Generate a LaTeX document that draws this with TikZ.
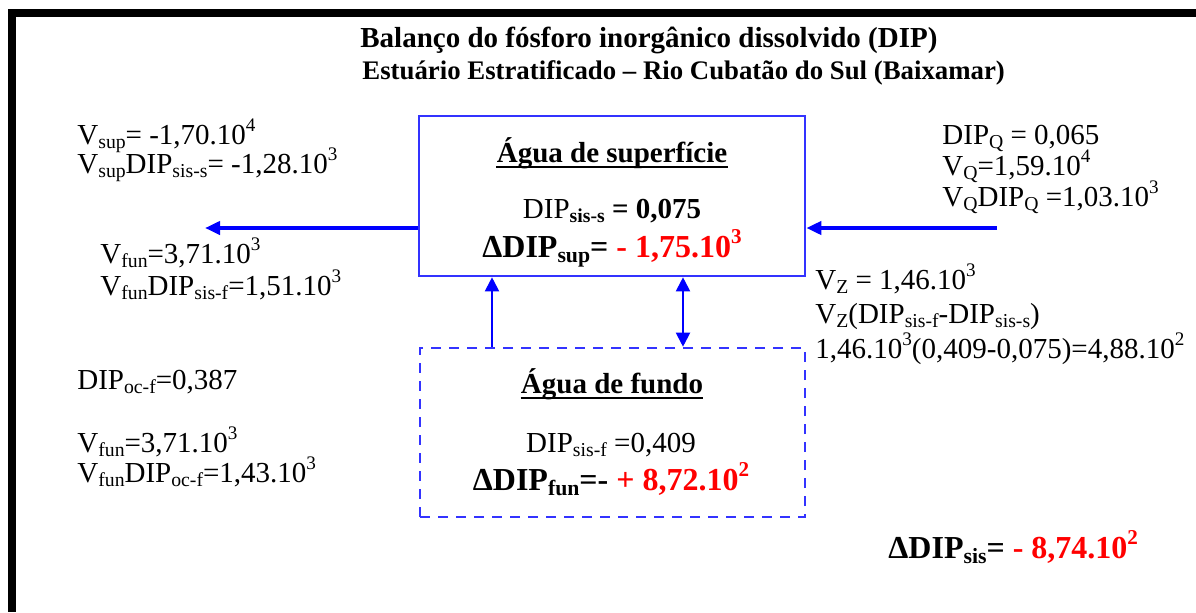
\documentclass[tikz,border=0pt]{standalone}
\usepackage{fontspec}
\setmainfont{Liberation Serif}
\usetikzlibrary{arrows.meta}
\definecolor{boxblue}{RGB}{51,51,255}
\definecolor{arrblue}{RGB}{0,0,255}
\definecolor{valred}{RGB}{255,0,0}
\newcommand{\sbx}[1]{\raisebox{-0.17em}{\scalebox{0.68}{#1}}}
\newcommand{\spx}[1]{\raisebox{0.42em}{\scalebox{0.66}{#1}}}
\tikzset{
  txt/.style={inner sep=0pt, anchor=base west, font=\fontsize{14.5}{16}\selectfont},
  midtxt/.style={inner sep=0pt, anchor=base, font=\fontsize{14.5}{16}\selectfont},
  bigtxt/.style={inner sep=0pt, anchor=base, font=\fontsize{16}{18}\selectfont\bfseries},
  ttl/.style={inner sep=0pt, anchor=base, font=\fontsize{14.5}{16}\selectfont\bfseries},
  boxsup/.style={draw=boxblue, line width=1.3pt, minimum width=193pt, minimum height=80pt},
  boxfun/.style={draw=boxblue, line width=1.3pt, dash pattern=on 5pt off 4pt, minimum width=192.5pt, minimum height=84.5pt},
  flux/.style={draw=arrblue, line width=2.2pt, -{Triangle[length=7.5pt,width=6.5pt]}},
  exch/.style={draw=arrblue, line width=1pt, -{Triangle[length=7pt,width=7pt]}}
}
\begin{document}
\begin{tikzpicture}[x=0.5pt,y=-0.5pt]
\useasboundingbox (0,0) rectangle (1196,612);
% moldura
\fill (8,9) rectangle (1196,17);
\fill (8,9) rectangle (16,612);
% titulo
\node[txt, font=\fontsize{14.5}{16}\selectfont\bfseries] (title1) at (360,47) {Balanço do fósforo inorgânico dissolvido (DIP)};
\node[txt, font=\fontsize{13.4}{16}\selectfont\bfseries] (title2) at (362,79) {Estuário Estratificado -- Rio Cubatão do Sul (Baixamar)};
% caixas
\node[boxsup] (sup) at (612,196) {};
\node[boxfun] (fun) at (612.5,432.5) {};
\node[ttl] (supttl) at (612,162) {Água de superfície};
\draw[line width=1.2pt] ([yshift=-2.6pt]supttl.base west) -- ([yshift=-2.6pt]supttl.base east);
\node[midtxt] (supdip) at (612,218) {DIP\sbx{\bfseries sis-s} \textbf{= 0,075}};
\node[bigtxt] (supdelta) at (612,257) {ΔDIP\sbx{sup}= \textcolor{valred}{- 1,75.10\spx{3}}};
\node[ttl] (funttl) at (612,393) {Água de fundo};
\draw[line width=1.2pt] ([yshift=-2.6pt]funttl.base west) -- ([yshift=-2.6pt]funttl.base east);
\node[midtxt] (fundip) at (611,452) {DIP\sbx{sis-f} =0,409};
\node[bigtxt] (fundelta) at (611,490) {ΔDIP\sbx{fun}=- \textcolor{valred}{+ 8,72.10\spx{2}}};
% fluxos
\coordinate (outS) at (205,228);
\coordinate (inQ) at (997,228);
\coordinate (advx) at (492,0);
\coordinate (mixx) at (683,0);
\draw[flux] (sup.west |- outS) -- (outS);
\draw[flux] (inQ) -- (sup.east |- inQ);
\draw[exch] (advx |- fun.north) -- (advx |- sup.south);
\draw[exch, {Triangle[length=7pt,width=7pt]}-{Triangle[length=7pt,width=7pt]}] (mixx |- sup.south) -- (mixx |- fun.north);
% lado esquerdo
\node[txt] (vsup) at (77,144) {V\sbx{sup}= -1,70.10\spx{4}};
\node[txt] (vsupdip) at (77,173) {V\sbx{sup}DIP\sbx{sis-s}= -1,28.10\spx{3}};
\node[txt] (vfuna) at (100,263) {V\sbx{fun}=3,71.10\spx{3}};
\node[txt] (vfundipa) at (100,295) {V\sbx{fun}DIP\sbx{sis-f}=1,51.10\spx{3}};
\node[txt] (dipoc) at (77,389) {DIP\sbx{oc-f}=0,387};
\node[txt] (vfunb) at (77,452) {V\sbx{fun}=3,71.10\spx{3}};
\node[txt] (vfundipb) at (77,482) {V\sbx{fun}DIP\sbx{oc-f}=1,43.10\spx{3}};
% lado direito
\node[txt] (dipq) at (942,144) {DIP\sbx{Q} = 0,065};
\node[txt] (vq) at (942,175) {V\sbx{Q}=1,59.10\spx{4}};
\node[txt] (vqdip) at (942,206) {V\sbx{Q}DIP\sbx{Q} =1,03.10\spx{3}};
\node[txt] (vz) at (815,289) {V\sbx{Z} = 1,46.10\spx{3}};
\node[txt] (vzdip) at (815,323) {V\sbx{Z}(DIP\sbx{sis-f}-DIP\sbx{sis-s})};
\node[txt] (vzval) at (815,358) {1,46.10\spx{3}(0,409-0,075)=4,88.10\spx{2}};
% balanco total
\node[bigtxt, anchor=base west] (sis) at (888,558) {ΔDIP\sbx{sis}= \textcolor{valred}{- 8,74.10\spx{2}}};
\end{tikzpicture}
\end{document}
